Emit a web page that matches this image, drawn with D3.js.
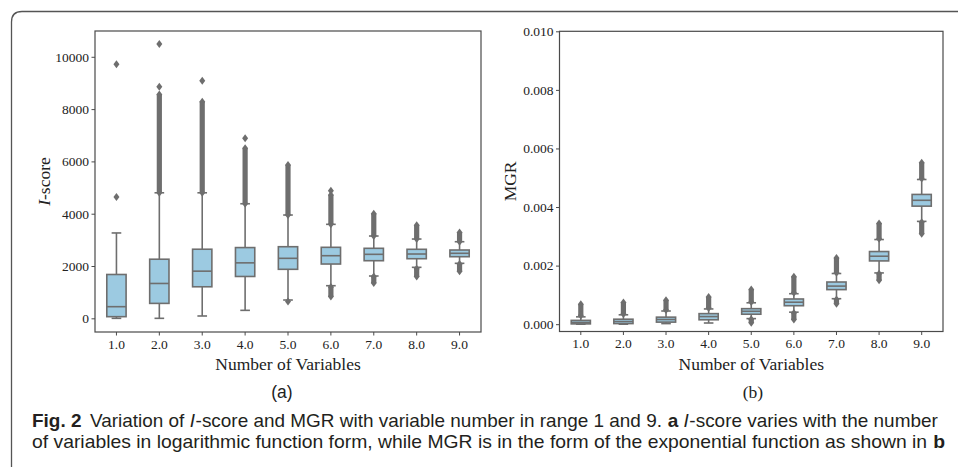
<!DOCTYPE html>
<html>
<head>
<meta charset="utf-8">
<script src="https://cdn.jsdelivr.net/npm/d3@7"></script>
<style>
  body { margin: 0; background: #fff; }
  svg { display: block; }
</style>
</head>
<body>
<div id="chart"></div>
<script>
// Canvas size
var width = 958;
var height = 467;

// Categories (number of variables)
var categories = ["1.0", "2.0", "3.0", "4.0", "5.0", "6.0", "7.0", "8.0", "9.0"];

// Panel (a): I-score box statistics
var iScoreQ1 = [63, 571, 1206, 1600, 1874, 2076, 2203, 2279, 2356];
var iScoreMedian = [445, 1333, 1803, 2121, 2294, 2394, 2447, 2459, 2486];
var iScoreQ3 = [1676, 2260, 2642, 2705, 2738, 2715, 2677, 2639, 2612];
var iScoreWhiskerLow = [0, 0, 89, 305, 700, 1247, 1618, 1950, 2103];
var iScoreWhiskerHigh = [3264, 4800, 4800, 4381, 3950, 3594, 3147, 3032, 2929];
// dense runs of outliers [from, to]
var iScoreRunHigh = [null, [4800, 8560], [4800, 8283], [4381, 6501], [3950, 5862], [3594, 4715], [3147, 4000], [3032, 3560], [2929, 3280]];
var iScoreRunLow = [null, null, null, null, null, [830, 1200], [1350, 1600], [1600, 1900], [1800, 2080]];
// isolated outliers
var iScoreOutliers = [[4636, 9713], [8857, 10489], [9086], [6883], [640], [4880], [], [], []];
var iScoreTicks = [0, 2000, 4000, 6000, 8000, 10000];

// Panel (b): MGR box statistics
var mgrQ1 = [0.00001, 0.00002, 0.00007, 0.00015, 0.00034, 0.00063, 0.00118, 0.00216, 0.00403];
var mgrMedian = [0.00006, 0.00009, 0.00016, 0.00026, 0.00044, 0.00075, 0.0013, 0.00232, 0.00423];
var mgrQ3 = [0.00013, 0.00017, 0.00024, 0.00036, 0.00053, 0.00086, 0.00144, 0.00248, 0.00443];
var mgrWhiskerLow = [0, 0, 0.00002, 0.00004, 0.00019, 0.00041, 0.00087, 0.00175, 0.00351];
var mgrWhiskerHigh = [0.00025, 0.00032, 0.00045, 0.00052, 0.00073, 0.00104, 0.00173, 0.00289, 0.00494];
var mgrRunHigh = [[0.0003, 0.00068], [0.00035, 0.00074], [0.00048, 0.00082], [0.00055, 0.00093], [0.00076, 0.00118], [0.00107, 0.00162], [0.00176, 0.00226], [0.00292, 0.00344], [0.00497, 0.00551]];
var mgrRunLow = [null, null, null, null, [0.00005, 0.00017], [0.00016, 0.00038], [0.0007, 0.00084], [0.0015, 0.00172], [0.00309, 0.00348]];
var mgrOutliers = [[], [], [], [], [], [], [], [], []];
var mgrTicks = [0, 0.002, 0.004, 0.006, 0.008, 0.010];

// Colours
var boxFill = "#9ccae1";
var lineColor = "#6e6e6e";
var spineColor = "#4a4a4a";
var serif = "'Liberation Serif', 'Times New Roman', serif";

var svg = d3.select("#chart").append("svg")
    .attr("width", width)
    .attr("height", height);

// Rounded figure frame (top and left sides)
svg.append("path")
    .attr("d", "M958,11.5 L22,11.5 Q11.5,11.5 11.5,22 L11.5,467")
    .attr("fill", "none")
    .attr("stroke", "#555")
    .attr("stroke-width", 1.3);

function diamond(g, x, y) {
    g.append("path")
        .attr("d", "M" + x + "," + (y - 4) + " L" + (x + 3) + "," + y + " L" + x + "," + (y + 4) + " L" + (x - 3) + "," + y + " Z")
        .attr("fill", lineColor);
}

// Draw one box plot panel
function drawPanel(opts) {
    var g = svg.append("g");

    var x = d3.scaleBand()
        .domain(categories)
        .range([opts.left, opts.right])
        .padding(0);
    var y = d3.scaleLinear()
        .domain(opts.domain)
        .range([opts.bottom, opts.top]);

    var bw = x.bandwidth() * 0.45;

    categories.forEach(function(c, i) {
        var cx = x(c) + x.bandwidth() / 2;

        // outlier runs
        [opts.runHigh[i], opts.runLow[i]].forEach(function(run) {
            if (!run) return;
            var y0 = y(run[0]), y1 = y(run[1]);
            g.append("rect")
                .attr("x", cx - 2.6)
                .attr("y", Math.min(y0, y1))
                .attr("width", 5.2)
                .attr("height", Math.abs(y1 - y0))
                .attr("fill", lineColor);
            diamond(g, cx, y0);
            diamond(g, cx, y1);
        });

        opts.outliers[i].forEach(function(v) { diamond(g, cx, y(v)); });

        // whiskers
        g.append("line")
            .attr("x1", cx).attr("x2", cx)
            .attr("y1", y(opts.q3[i])).attr("y2", y(opts.wHigh[i]))
            .attr("stroke", lineColor).attr("stroke-width", 1.6);
        g.append("line")
            .attr("x1", cx).attr("x2", cx)
            .attr("y1", y(opts.q1[i])).attr("y2", y(opts.wLow[i]))
            .attr("stroke", lineColor).attr("stroke-width", 1.6);
        [opts.wHigh[i], opts.wLow[i]].forEach(function(v) {
            g.append("line")
                .attr("x1", cx - bw / 4).attr("x2", cx + bw / 4)
                .attr("y1", y(v)).attr("y2", y(v))
                .attr("stroke", lineColor).attr("stroke-width", 1.6);
        });

        // box
        g.append("rect")
            .attr("x", cx - bw / 2)
            .attr("y", y(opts.q3[i]))
            .attr("width", bw)
            .attr("height", Math.max(y(opts.q1[i]) - y(opts.q3[i]), 1))
            .attr("fill", boxFill)
            .attr("stroke", lineColor)
            .attr("stroke-width", 1.6);
        g.append("line")
            .attr("x1", cx - bw / 2).attr("x2", cx + bw / 2)
            .attr("y1", y(opts.median[i])).attr("y2", y(opts.median[i]))
            .attr("stroke", lineColor).attr("stroke-width", 1.6);
    });

    // axes
    var yAxis = g.append("g")
        .attr("transform", "translate(" + opts.left + ",0)")
        .call(d3.axisLeft(y).tickValues(opts.ticks).tickFormat(opts.format).tickSize(3.5).tickSizeOuter(0));
    var xAxis = g.append("g")
        .attr("transform", "translate(0," + opts.bottom + ")")
        .call(d3.axisBottom(x).tickSize(3.5).tickSizeOuter(0));

    [yAxis, xAxis].forEach(function(a) {
        a.select(".domain").remove();
        a.selectAll(".tick line").attr("stroke", spineColor).attr("stroke-width", 1);
        a.selectAll(".tick text")
            .attr("fill", "#222")
            .style("font-family", serif)
            .style("font-size", "13.5px");
    });
    yAxis.selectAll(".tick text").attr("x", -6);
    xAxis.selectAll(".tick text").attr("y", 7);

    // spines
    g.append("rect")
        .attr("x", opts.left)
        .attr("y", opts.top)
        .attr("width", opts.right - opts.left)
        .attr("height", opts.bottom - opts.top)
        .attr("fill", "none")
        .attr("stroke", spineColor)
        .attr("stroke-width", 1.2);

    // x label
    g.append("text")
        .attr("x", (opts.left + opts.right) / 2)
        .attr("y", 370)
        .attr("text-anchor", "middle")
        .style("font-family", serif)
        .style("font-size", "17.5px")
        .attr("fill", "#222")
        .text("Number of Variables");

    // y label
    var yl = g.append("text")
        .attr("transform", "translate(" + opts.yLabelX + "," + ((opts.top + opts.bottom) / 2) + ") rotate(-90)")
        .attr("text-anchor", "middle")
        .style("font-family", serif)
        .style("font-size", "17.5px")
        .attr("fill", "#222");
    opts.yLabel(yl);

    // panel letter
    g.append("text")
        .attr("x", opts.letterX)
        .attr("y", 398)
        .attr("text-anchor", "middle")
        .style("font-family", opts.letterFont)
        .style("font-size", "17.5px")
        .attr("fill", "#222")
        .text(opts.letter);
}

drawPanel({
    left: 95, right: 481, top: 31, bottom: 332,
    domain: [-523, 10986],
    ticks: iScoreTicks, format: d3.format("d"),
    q1: iScoreQ1, median: iScoreMedian, q3: iScoreQ3,
    wLow: iScoreWhiskerLow, wHigh: iScoreWhiskerHigh,
    runHigh: iScoreRunHigh, runLow: iScoreRunLow, outliers: iScoreOutliers,
    yLabelX: 50,
    yLabel: function(t) {
        t.append("tspan").style("font-style", "italic").text("I");
        t.append("tspan").text("-score");
    },
    letter: "(a)", letterX: 282, letterFont: "'Liberation Sans', Arial, sans-serif"
});

drawPanel({
    left: 559.5, right: 943, top: 31.3, bottom: 331.5,
    domain: [-0.00025, 0.010],
    ticks: mgrTicks, format: d3.format(".3f"),
    q1: mgrQ1, median: mgrMedian, q3: mgrQ3,
    wLow: mgrWhiskerLow, wHigh: mgrWhiskerHigh,
    runHigh: mgrRunHigh, runLow: mgrRunLow, outliers: mgrOutliers,
    yLabelX: 516,
    yLabel: function(t) { t.text("MGR"); },
    letter: "(b)", letterX: 753, letterFont: serif
});

// Caption: each styled run is its own text, laid out one after another
// with the given gap, then the line is squeezed to the reference width
var capFont = "'Liberation Sans Narrow', 'Liberation Sans', Arial, sans-serif";
function captionLine(y, targetWidth, parts) {
    var g = svg.append("g");
    var cursor = 0;
    parts.forEach(function(p) {
        var t = g.append("text")
            .attr("x", cursor).attr("y", 0)
            .style("font-family", capFont)
            .style("font-size", "18px")
            .attr("fill", "#231f20")
            .text(p[0]);
        if (p[1] === "b") t.style("font-weight", "bold");
        if (p[1] === "i") t.style("font-style", "italic");
        cursor += t.node().getComputedTextLength() + p[2];
    });
    g.attr("transform", "translate(32," + y + ") scale(" + (targetWidth / cursor) + ",1)");
}

captionLine(426.5, 906, [
    ["Fig. 2", "b", 8], ["Variation of", "", 5], ["I", "i", 0.6],
    ["-score and MGR with variable number in range 1 and 9.", "", 5],
    ["a", "b", 5], ["I", "i", 0.6], ["-score varies with the number", "", 0]
]);
captionLine(447.5, 913, [
    ["of variables in logarithmic function form, while MGR is in the form of the exponential function as shown in", "", 5],
    ["b", "b", 0]
]);
</script>
</body>
</html>
